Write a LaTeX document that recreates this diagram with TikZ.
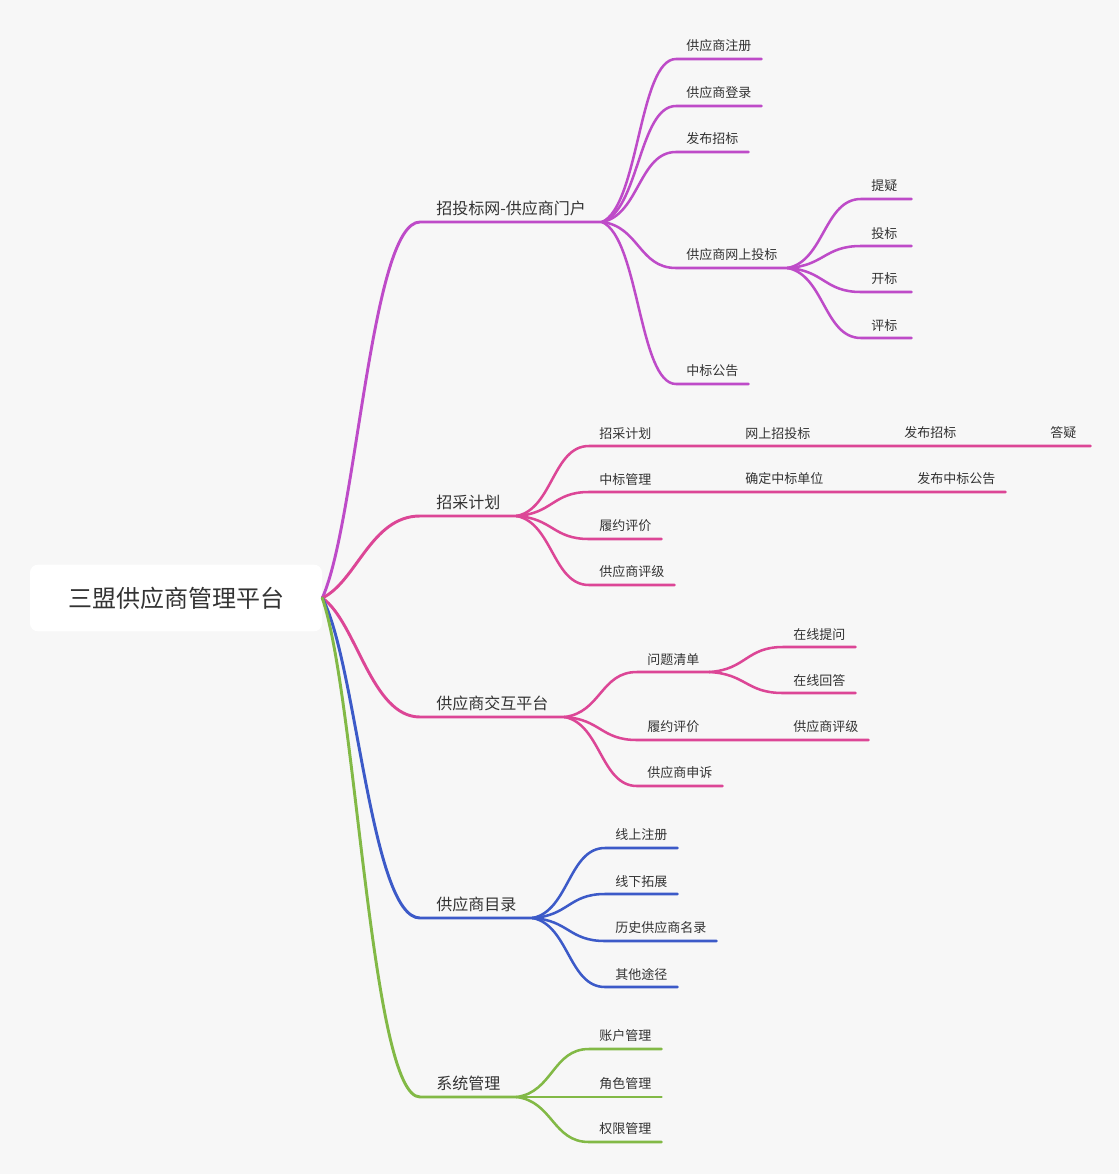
\documentclass[tikz,border=0pt]{standalone}
\usepackage{fontspec}
\setmainfont{Noto Sans CJK SC}
\usetikzlibrary{calc}

\definecolor{bgcolor}{HTML}{F7F7F7}
\definecolor{txtcolor}{HTML}{333333}
\definecolor{portalc}{HTML}{BE4BC8}
\definecolor{planc}{HTML}{DC4696}
\definecolor{catalogc}{HTML}{3C5AC8}
\definecolor{systemc}{HTML}{82B946}

\tikzset{
    root node/.style={fill=white,rounded corners=6pt,minimum width=219pt,minimum height=50pt,
        font=\fontsize{18}{22}\selectfont,text=txtcolor},
    topic node/.style={anchor=south west,inner xsep=12pt,inner ysep=4.5pt,
        font=\fontsize{12}{14}\selectfont,text=txtcolor},
    item node/.style={anchor=south west,inner xsep=7.5pt,inner ysep=5pt,
        font=\fontsize{9.75}{12}\selectfont,text=txtcolor},
    short node/.style={item node,text width=22.5pt},
    trunk/.style={to path={.. controls ($(\tikztostart)!0.2!(\tikztotarget)
        + 0.15*(\tikztotarget) - 0.15*(\tikztotarget -| \tikztostart)$)
        and ($(\tikztotarget)!0.5!(\tikztotarget -| \tikztostart)$) .. (\tikztotarget) \tikztonodes}},
    branch/.style={to path={.. controls ($(\tikztostart)!0.1!(\tikztotarget)
        + 0.4*(\tikztotarget) - 0.4*(\tikztotarget -| \tikztostart)$)
        and ($(\tikztotarget)!0.5!(\tikztotarget -| \tikztostart)$) .. (\tikztotarget) \tikztonodes}},
    main line/.style={line width=2.2pt,line cap=round},
    sub line/.style={line width=1.9pt,line cap=round}
    }

\begin{document}
\begin{tikzpicture}[x=0.75pt,y=-0.75pt]
    \useasboundingbox (0,0) rectangle (1119,1174);
    \fill[bgcolor] (0,0) rectangle (1119,1174);

    % centre
    \node[root node] (root) at (176,598) {三盟供应商管理平台};

    % main topics
    \node[topic node] (portal) at (420,222) {招投标网-供应商门户};
    \node[topic node] (plan) at (420,516) {招采计划};
    \node[topic node] (interact) at (420,717) {供应商交互平台};
    \node[topic node] (catalog) at (420,918) {供应商目录};
    \node[topic node] (system) at (420,1097) {系统管理};

    % portal
    \node[item node] (reg) at (676,59) {供应商注册};
    \node[item node] (login) at (676,106) {供应商登录};
    \node[item node] (publish) at (676,152) {发布招标};
    \node[item node] (bid) at (676,268) {供应商网上投标};
    \node[item node] (notice) at (676,384) {中标公告};
    \node[short node] (query) at (861,199) {提疑};
    \node[short node] (tender) at (861,246) {投标};
    \node[short node] (open) at (861,292) {开标};
    \node[short node] (judge) at (861,338) {评标};

    % plan
    \node[item node] (pplan) at (589,446) {招采计划};
    \node[item node] (online) at (735,446) {网上招投标};
    \node[item node] (pubbid) at (894,446) {发布招标};
    \node[short node] (answer) at (1040,446) {答疑};
    \node[item node] (award) at (589,492) {中标管理};
    \node[item node] (confirm) at (735,492) {确定中标单位};
    \node[item node] (pubaward) at (907,492) {发布中标公告};
    \node[item node] (perf) at (589,539) {履约评价};
    \node[item node] (rating) at (589,585) {供应商评级};

    % interact
    \node[item node] (issues) at (637,672) {问题清单};
    \node[item node] (ask) at (783,647) {在线提问};
    \node[item node] (reply) at (783,693) {在线回答};
    \node[item node] (perftwo) at (637,740) {履约评价};
    \node[item node] (ratingtwo) at (783,740) {供应商评级};
    \node[item node] (appeal) at (637,786) {供应商申诉};

    % catalog
    \node[item node] (upreg) at (605,848) {线上注册};
    \node[item node] (offline) at (605,894) {线下拓展};
    \node[item node] (history) at (605,941) {历史供应商名录};
    \node[item node] (other) at (605,987) {其他途径};

    % system
    \node[item node] (account) at (589,1049) {账户管理};
    \node[item node] (role) at (589,1097) {角色管理};
    \node[item node] (right) at (589,1142) {权限管理};

    % connectors from the centre
    \draw[portalc,main line] (root.east) to[trunk] (portal.south west) -- (portal.south east);
    \draw[planc,main line] (root.east) to[trunk] (plan.south west) -- (plan.south east);
    \draw[planc,main line] (root.east) to[trunk] (interact.south west) -- (interact.south east);
    \draw[catalogc,main line] (root.east) to[trunk] (catalog.south west) -- (catalog.south east);
    \draw[systemc,main line] (root.east) to[trunk] (system.south west) -- (system.south east);

    % portal branches
    \draw[portalc,sub line] (portal.south east) to[branch] (reg.south west) -- (reg.south east);
    \draw[portalc,sub line] (portal.south east) to[branch] (login.south west) -- (login.south east);
    \draw[portalc,sub line] (portal.south east) to[branch] (publish.south west) -- (publish.south east);
    \draw[portalc,sub line] (portal.south east) to[branch] (bid.south west) -- (bid.south east);
    \draw[portalc,sub line] (portal.south east) to[branch] (notice.south west) -- (notice.south east);
    \draw[portalc,sub line] (bid.south east) to[branch] (query.south west) -- (query.south east);
    \draw[portalc,sub line] (bid.south east) to[branch] (tender.south west) -- (tender.south east);
    \draw[portalc,sub line] (bid.south east) to[branch] (open.south west) -- (open.south east);
    \draw[portalc,sub line] (bid.south east) to[branch] (judge.south west) -- (judge.south east);

    % plan branches
    \draw[planc,sub line] (plan.south east) to[branch] (pplan.south west) -- (pplan.south east)
        -- (online.south west) -- (online.south east) -- (pubbid.south west) -- (pubbid.south east)
        -- (answer.south west) -- (answer.south east);
    \draw[planc,sub line] (plan.south east) to[branch] (award.south west) -- (award.south east)
        -- (confirm.south west) -- (confirm.south east) -- (pubaward.south west) -- (pubaward.south east);
    \draw[planc,sub line] (plan.south east) to[branch] (perf.south west) -- (perf.south east);
    \draw[planc,sub line] (plan.south east) to[branch] (rating.south west) -- (rating.south east);

    % interact branches
    \draw[planc,sub line] (interact.south east) to[branch] (issues.south west) -- (issues.south east);
    \draw[planc,sub line] (issues.south east) to[branch] (ask.south west) -- (ask.south east);
    \draw[planc,sub line] (issues.south east) to[branch] (reply.south west) -- (reply.south east);
    \draw[planc,sub line] (interact.south east) to[branch] (perftwo.south west) -- (perftwo.south east)
        -- (ratingtwo.south west) -- (ratingtwo.south east);
    \draw[planc,sub line] (interact.south east) to[branch] (appeal.south west) -- (appeal.south east);

    % catalog branches
    \draw[catalogc,sub line] (catalog.south east) to[branch] (upreg.south west) -- (upreg.south east);
    \draw[catalogc,sub line] (catalog.south east) to[branch] (offline.south west) -- (offline.south east);
    \draw[catalogc,sub line] (catalog.south east) to[branch] (history.south west) -- (history.south east);
    \draw[catalogc,sub line] (catalog.south east) to[branch] (other.south west) -- (other.south east);

    % system branches
    \draw[systemc,sub line] (system.south east) to[branch] (account.south west) -- (account.south east);
    \draw[systemc,sub line] (system.south east) to[branch] (role.south west) -- (role.south east);
    \draw[systemc,sub line] (system.south east) to[branch] (right.south west) -- (right.south east);
\end{tikzpicture}
\end{document}
